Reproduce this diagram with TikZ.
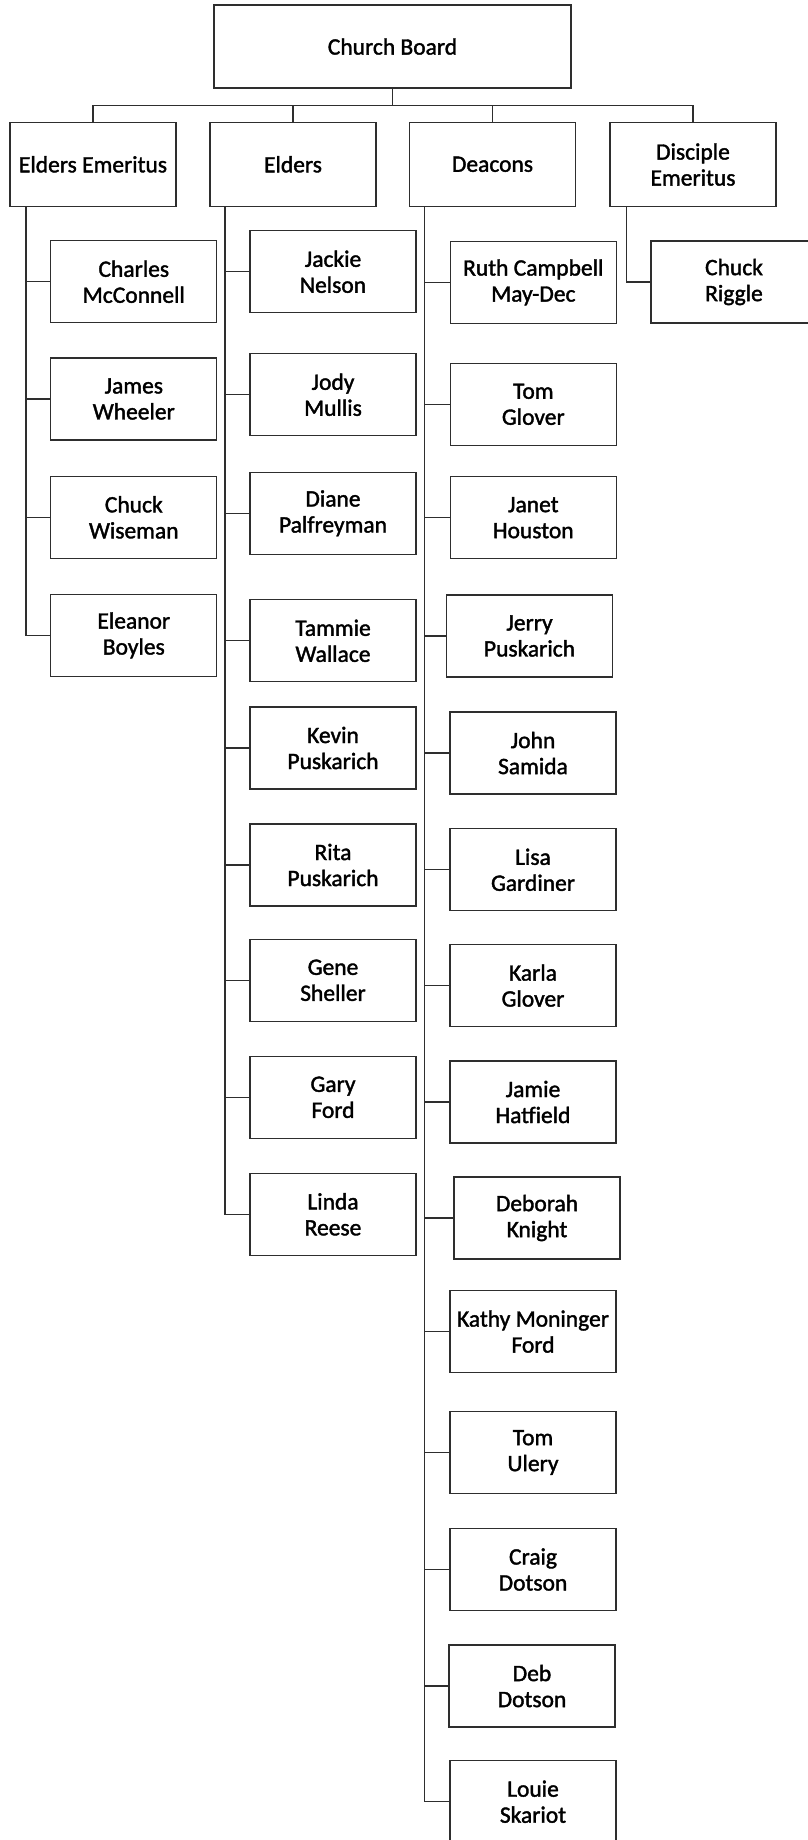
\documentclass[tikz,border=0pt]{standalone}
\usepackage{fontspec}
\setmainfont{Carlito}[FakeBold=1.6]
\usepackage{xcolor}
\usepackage{tikz}
\usetikzlibrary{positioning}
\definecolor{traitgris}{HTML}{2E2E2E}

\begin{document}
\begin{tikzpicture}[x=1pt,y=-1pt,
    poste/.style = {draw=traitgris,line width=1.3pt,align=center,
                    minimum width=166pt,minimum height=82pt,inner sep=2pt,
                    font=\fontsize{23.5}{26}\selectfont},
    lien/.style  = {draw=traitgris,line width=1.3pt},
  ]
  \useasboundingbox (0,0) rectangle (807,1840);

  % Conseil
  \node[poste,minimum width=357pt,minimum height=83pt] (conseil) at (392.5,46.5) {Church Board};

  % Groupes du second niveau
  \node[poste,minimum height=84pt] (emer)  at (93,164.3)  {Elders Emeritus};
  \node[poste,minimum height=84pt] (anc)   at (293,164.3) {Elders};
  \node[poste,minimum height=84pt] (diac)  at (492.5,164.3) {Deacons};
  \node[poste,minimum height=84pt] (disc)  at (693,164.5) {Disciple\\Emeritus};

  \foreach \grp in {emer,anc,diac,disc}
    \draw[lien] (conseil.south) -- ++(0,16.5) -| (\grp.north);

  % Anciens émérites
  \foreach \nom/\py/\txt in {
      cmc/281.7/{Charles\\McConnell},
      jwh/399/{James\\Wheeler},
      cwi/517.3/{Chuck\\Wiseman},
      ebo/635.3/{Eleanor\\Boyles}}
  {
    \node[poste] (\nom) at (133.8,\py) {\txt};
    \draw[lien] ([xshift=16.5pt]emer.south west) |- (\nom.west);
  }

  % Anciens
  \foreach \nom/\py/\txt in {
      jne/271.7/{Jackie\\Nelson},
      jmu/394.7/{Jody\\Mullis},
      dpa/513.3/{Diane\\Palfreyman},
      twa/640.8/{Tammie\\Wallace},
      kpu/748/{Kevin\\Puskarich},
      rpu/865/{Rita\\Puskarich},
      gsh/980.3/{Gene\\Sheller},
      gfo/1097.3/{Gary\\Ford},
      lre/1214.3/{Linda\\Reese}}
  {
    \node[poste] (\nom) at (333,\py) {\txt};
    \draw[lien] ([xshift=15.5pt]anc.south west) |- (\nom.west);
  }

  % Diacres
  \foreach \nom/\px/\py/\txt in {
      rca/533.3/282.3/{Ruth Campbell\\May-Dec},
      tgl/533.3/404.3/{Tom\\Glover},
      jho/533.3/517.7/{Janet\\Houston},
      jpu/529.5/636/{Jerry\\Puskarich},
      jsa/533/753/{John\\Samida},
      lga/533/869.8/{Lisa\\Gardiner},
      kgl/533/985.5/{Karla\\Glover},
      jha/533/1102/{Jamie\\Hatfield},
      dkn/537/1218/{Deborah\\Knight},
      kmf/533/1331.5/{Kathy Moninger\\Ford},
      tul/533/1452.5/{Tom\\Ulery},
      cdo/533/1569.5/{Craig\\Dotson},
      ddo/532/1686/{Deb\\Dotson},
      lsk/533/1801.7/{Louie\\Skariot}}
  {
    \node[poste] (\nom) at (\px,\py) {\txt};
    \draw[lien] ([xshift=15.5pt]diac.south west) |- (\nom.west);
  }

  % Disciple émérite
  \node[poste] (cri) at (734,282) {Chuck\\Riggle};
  \draw[lien] ([xshift=17pt]disc.south west) |- (cri.west);

\end{tikzpicture}
\end{document}
